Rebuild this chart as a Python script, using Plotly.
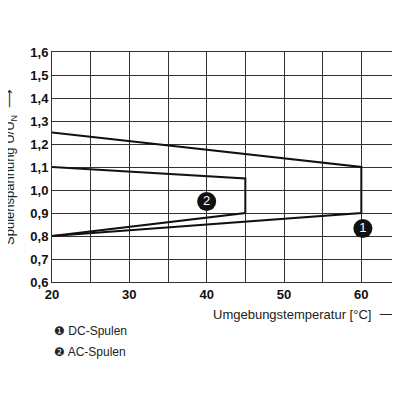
import plotly.graph_objects as go

dc_x = [20, 60, 60, 20]
dc_y = [0.8, 0.9, 1.1, 1.25]
ac_x = [20, 45, 45, 20]
ac_y = [0.8, 0.9, 1.05, 1.1]
lab_x = [60.2, 40]
lab_y = [0.833, 0.95]
lab_t = ["1", "2"]
x_ticks = [20, 30, 40, 50, 60]
y_ticks = [0.6, 0.7, 0.8, 0.9, 1.0, 1.1, 1.2, 1.3, 1.4, 1.5, 1.6]
y_labels = [f"{v:.1f}".replace(".", ",") for v in y_ticks]

fig = go.Figure()
for xs, ys in [(dc_x, dc_y), (ac_x, ac_y)]:
    fig.add_trace(go.Scatter(x=xs, y=ys, mode="lines", line=dict(color="#111", width=2), hoverinfo="skip"))
fig.add_trace(go.Scatter(x=lab_x, y=lab_y, mode="markers+text", text=lab_t,
    marker=dict(size=19, color="#111"), textfont=dict(color="white", size=13, family="Arial"),
    textposition="middle center"))

grid = "#333"
fig.update_xaxes(range=[20, 65], tickvals=x_ticks, showgrid=True, gridcolor=grid, gridwidth=1,
    zeroline=False, showline=True, linecolor=grid, mirror=True,
    tickfont=dict(size=13, family="Arial", color="#111", weight="bold"))
fig.update_xaxes(minor=dict(dtick=5, tick0=25, showgrid=True, gridcolor=grid))
fig.update_yaxes(range=[0.6, 1.6], tickvals=y_ticks, ticktext=y_labels, showgrid=True, gridcolor=grid,
    zeroline=False, showline=True, linecolor=grid, mirror=True,
    tickfont=dict(size=13, family="Arial", color="#111", weight="bold"))

ann = [
    dict(x=1.0, y=0, xref="paper", yref="paper", yshift=-32, text="Umgebungstemperatur [°C]  ⟶",
         showarrow=False, font=dict(size=13, color="#222"), xanchor="right", yanchor="middle"),
    dict(x=0, y=0.5, xref="paper", yref="paper", xshift=-42, text="Spulenspannung U/U<sub>N</sub>  ⟶",
         textangle=-90, showarrow=False, font=dict(size=13, color="#222"), xanchor="center"),
    dict(x=0, y=0, xref="paper", yref="paper", yshift=-58, xshift=0, text="❶ DC-Spulen", showarrow=False,
         xanchor="left", font=dict(size=12, color="#222")),
    dict(x=0, y=0, xref="paper", yref="paper", yshift=-79, xshift=0, text="❷ AC-Spulen", showarrow=False,
         xanchor="left", font=dict(size=12, color="#222")),
]
fig.update_layout(width=400, height=400, margin=dict(l=44, r=8, t=44, b=126, autoexpand=False), showlegend=False,
    plot_bgcolor="white", paper_bgcolor="white", annotations=ann, font=dict(family="Arial"))
fig.write_html("out.html")
